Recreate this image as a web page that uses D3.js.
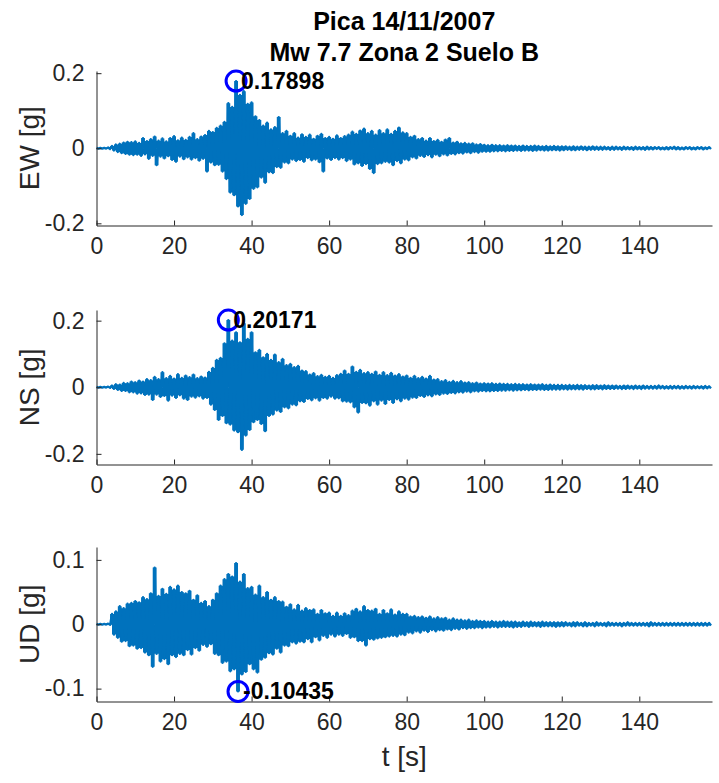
<!DOCTYPE html>
<html>
<head>
<meta charset="utf-8">
<script src="https://cdn.jsdelivr.net/npm/d3@7"></script>
<style>
  body { margin: 0; background: #fff; }
  svg text { font-family: "Liberation Sans", Arial, Helvetica, sans-serif; }
</style>
</head>
<body>
<svg id="chart" width="719" height="783"></svg>
<script>
// ---- Titles and labels ----
const titleLines = ["Pica 14/11/2007", "Mw 7.7 Zona 2 Suelo B"];
const componentNames = ["EW", "NS", "UD"];
const yAxisLabels = ["EW [g]", "NS [g]", "UD [g]"];
const xAxisLabel = "t [s]";

// ---- Axis ticks ----
const xTicks = [0, 20, 40, 60, 80, 100, 120, 140];
const xMax = 158.75;
const yTicksEW = [-0.2, 0, 0.2];
const yTicksNS = [-0.2, 0, 0.2];
const yTicksUD = [-0.1, 0, 0.1];

// ---- Acceleration records [g] ----
// Positive peak of each 1 s window (at t = i s) and negative peak (at t = i + 0.5 s)
const ewPeaks = [
  0.001, 0.001, 0.001, 0.002, 0.006, 0.010, 0.012, 0.015, 0.017, 0.016,
  0.018, 0.014, 0.027, 0.019, 0.024, 0.031, 0.020, 0.026, 0.018, 0.027,
  0.032, 0.021, 0.028, 0.022, 0.030, 0.040, 0.024, 0.031, 0.035, 0.046,
  0.043, 0.054, 0.060, 0.070, 0.120, 0.110, 0.17898, 0.142, 0.152, 0.118,
  0.122, 0.085, 0.075, 0.060, 0.068, 0.050, 0.056, 0.083, 0.040, 0.046,
  0.033, 0.040, 0.028, 0.037, 0.030, 0.036, 0.025, 0.033, 0.038, 0.027,
  0.030, 0.025, 0.034, 0.027, 0.032, 0.036, 0.044, 0.038, 0.047, 0.052,
  0.040, 0.046, 0.036, 0.048, 0.040, 0.050, 0.038, 0.046, 0.055, 0.042,
  0.040, 0.030, 0.033, 0.024, 0.027, 0.020, 0.027, 0.019, 0.022, 0.017,
  0.023, 0.027, 0.015, 0.017, 0.013, 0.014, 0.012, 0.013, 0.010, 0.011,
  0.009, 0.008, 0.009, 0.008, 0.008, 0.007, 0.008, 0.007, 0.007, 0.006,
  0.007, 0.006, 0.006, 0.007, 0.006, 0.005, 0.006, 0.005, 0.006, 0.005,
  0.005, 0.005, 0.004, 0.005, 0.004, 0.005, 0.004, 0.004, 0.005, 0.004,
  0.004, 0.004, 0.003, 0.004, 0.004, 0.003, 0.004, 0.003, 0.003, 0.004,
  0.003, 0.003, 0.004, 0.003, 0.003, 0.003, 0.002, 0.003, 0.003, 0.004,
  0.003, 0.002, 0.003, 0.003, 0.002, 0.003, 0.003, 0.002, 0.003
];
const ewTroughs = [
  -0.001, -0.001, -0.001, -0.002, -0.006, -0.010, -0.013, -0.015, -0.017, -0.018,
  -0.017, -0.020, -0.016, -0.028, -0.020, -0.045, -0.022, -0.027, -0.021, -0.031,
  -0.036, -0.022, -0.029, -0.024, -0.030, -0.026, -0.033, -0.028, -0.062, -0.038,
  -0.045, -0.044, -0.062, -0.082, -0.118, -0.125, -0.155, -0.178, -0.148, -0.135,
  -0.108, -0.104, -0.078, -0.092, -0.064, -0.066, -0.050, -0.052, -0.038, -0.040,
  -0.030, -0.034, -0.031, -0.036, -0.026, -0.032, -0.030, -0.037, -0.062, -0.027,
  -0.031, -0.026, -0.030, -0.026, -0.034, -0.030, -0.043, -0.040, -0.047, -0.042,
  -0.055, -0.066, -0.042, -0.040, -0.036, -0.038, -0.045, -0.034, -0.040, -0.030,
  -0.032, -0.024, -0.027, -0.020, -0.023, -0.018, -0.024, -0.017, -0.021, -0.016,
  -0.019, -0.015, -0.016, -0.013, -0.014, -0.011, -0.013, -0.010, -0.012, -0.009,
  -0.009, -0.009, -0.008, -0.008, -0.007, -0.008, -0.007, -0.007, -0.006, -0.007,
  -0.006, -0.006, -0.007, -0.006, -0.005, -0.006, -0.006, -0.005, -0.005, -0.006,
  -0.005, -0.004, -0.005, -0.005, -0.004, -0.004, -0.005, -0.004, -0.004, -0.004,
  -0.004, -0.003, -0.004, -0.004, -0.003, -0.004, -0.003, -0.003, -0.004, -0.003,
  -0.003, -0.004, -0.003, -0.003, -0.002, -0.003, -0.003, -0.003, -0.002, -0.003,
  -0.003, -0.003, -0.002, -0.003, -0.003, -0.002, -0.003, -0.002, -0.002
];
const nsPeaks = [
  0.001, 0.001, 0.001, 0.002, 0.005, 0.009, 0.008, 0.013, 0.012, 0.017,
  0.015, 0.020, 0.017, 0.024, 0.021, 0.031, 0.024, 0.045, 0.027, 0.034,
  0.026, 0.039, 0.028, 0.035, 0.030, 0.038, 0.027, 0.032, 0.029, 0.046,
  0.058, 0.082, 0.088, 0.132, 0.20171, 0.140, 0.165, 0.135, 0.192, 0.145,
  0.165, 0.105, 0.112, 0.090, 0.100, 0.082, 0.098, 0.075, 0.085, 0.066,
  0.070, 0.060, 0.064, 0.050, 0.048, 0.038, 0.042, 0.033, 0.037, 0.031,
  0.034, 0.028, 0.036, 0.040, 0.050, 0.040, 0.062, 0.046, 0.052, 0.042,
  0.045, 0.040, 0.047, 0.037, 0.045, 0.036, 0.043, 0.035, 0.039, 0.032,
  0.035, 0.028, 0.034, 0.027, 0.031, 0.026, 0.034, 0.023, 0.024, 0.018,
  0.021, 0.016, 0.019, 0.015, 0.018, 0.014, 0.015, 0.012, 0.014, 0.011,
  0.012, 0.011, 0.012, 0.010, 0.011, 0.010, 0.010, 0.009, 0.010, 0.009,
  0.009, 0.008, 0.009, 0.008, 0.008, 0.009, 0.007, 0.008, 0.007, 0.007,
  0.007, 0.006, 0.007, 0.006, 0.007, 0.006, 0.006, 0.005, 0.006, 0.006,
  0.005, 0.006, 0.005, 0.005, 0.005, 0.004, 0.005, 0.005, 0.004, 0.005,
  0.004, 0.005, 0.004, 0.004, 0.004, 0.005, 0.004, 0.003, 0.004, 0.004,
  0.004, 0.003, 0.004, 0.003, 0.004, 0.003, 0.003, 0.004, 0.003
];
const nsTroughs = [
  -0.001, -0.001, -0.001, -0.002, -0.005, -0.008, -0.011, -0.011, -0.015, -0.015,
  -0.019, -0.018, -0.023, -0.022, -0.038, -0.022, -0.029, -0.026, -0.040, -0.025,
  -0.032, -0.024, -0.034, -0.038, -0.028, -0.031, -0.027, -0.034, -0.032, -0.052,
  -0.068, -0.098, -0.086, -0.108, -0.112, -0.130, -0.135, -0.188, -0.145, -0.128,
  -0.105, -0.098, -0.110, -0.132, -0.086, -0.082, -0.070, -0.074, -0.060, -0.063,
  -0.052, -0.054, -0.042, -0.044, -0.035, -0.039, -0.033, -0.040, -0.032, -0.034,
  -0.028, -0.034, -0.033, -0.042, -0.043, -0.045, -0.060, -0.076, -0.047, -0.048,
  -0.055, -0.042, -0.052, -0.040, -0.050, -0.038, -0.047, -0.036, -0.042, -0.034,
  -0.037, -0.031, -0.032, -0.026, -0.029, -0.024, -0.027, -0.021, -0.023, -0.019,
  -0.020, -0.017, -0.018, -0.015, -0.016, -0.013, -0.015, -0.012, -0.013, -0.011,
  -0.012, -0.012, -0.011, -0.011, -0.010, -0.010, -0.009, -0.010, -0.009, -0.009,
  -0.008, -0.009, -0.008, -0.008, -0.007, -0.008, -0.008, -0.007, -0.007, -0.007,
  -0.006, -0.007, -0.006, -0.006, -0.006, -0.007, -0.005, -0.006, -0.006, -0.005,
  -0.006, -0.005, -0.005, -0.005, -0.004, -0.005, -0.005, -0.004, -0.005, -0.004,
  -0.005, -0.004, -0.004, -0.004, -0.004, -0.003, -0.004, -0.004, -0.004, -0.003,
  -0.004, -0.004, -0.003, -0.004, -0.003, -0.003, -0.004, -0.003, -0.003
];
const udPeaks = [
  0.0005, 0.0005, 0.0005, 0.001, 0.016, 0.020, 0.028, 0.025, 0.032, 0.033,
  0.036, 0.034, 0.042, 0.039, 0.048, 0.088, 0.044, 0.055, 0.047, 0.058,
  0.054, 0.060, 0.050, 0.048, 0.052, 0.038, 0.045, 0.033, 0.036, 0.028,
  0.038, 0.048, 0.060, 0.070, 0.078, 0.074, 0.095, 0.066, 0.078, 0.056,
  0.058, 0.046, 0.060, 0.042, 0.050, 0.038, 0.042, 0.036, 0.035, 0.027,
  0.031, 0.023, 0.030, 0.021, 0.025, 0.022, 0.023, 0.016, 0.022, 0.017,
  0.018, 0.013, 0.018, 0.013, 0.017, 0.014, 0.021, 0.024, 0.020, 0.028,
  0.022, 0.021, 0.024, 0.016, 0.022, 0.017, 0.023, 0.015, 0.020, 0.016,
  0.016, 0.012, 0.013, 0.011, 0.012, 0.010, 0.012, 0.009, 0.011, 0.009,
  0.010, 0.007, 0.009, 0.007, 0.007, 0.006, 0.007, 0.005, 0.006, 0.005,
  0.005, 0.004, 0.005, 0.004, 0.004, 0.005, 0.004, 0.004, 0.004, 0.003,
  0.004, 0.003, 0.004, 0.003, 0.003, 0.004, 0.003, 0.003, 0.003, 0.003,
  0.003, 0.003, 0.002, 0.003, 0.003, 0.002, 0.003, 0.002, 0.002, 0.003,
  0.002, 0.002, 0.003, 0.002, 0.002, 0.002, 0.002, 0.003, 0.002, 0.002,
  0.002, 0.002, 0.002, 0.003, 0.002, 0.002, 0.002, 0.002, 0.002, 0.002,
  0.002, 0.002, 0.002, 0.002, 0.002, 0.002, 0.002, 0.002, 0.002
];
const udTroughs = [
  -0.0005, -0.0005, -0.0005, -0.001, -0.016, -0.021, -0.027, -0.026, -0.034, -0.033,
  -0.038, -0.037, -0.044, -0.048, -0.066, -0.046, -0.058, -0.054, -0.062, -0.048,
  -0.051, -0.046, -0.048, -0.040, -0.047, -0.037, -0.041, -0.032, -0.035, -0.031,
  -0.046, -0.048, -0.060, -0.058, -0.073, -0.070, -0.10435, -0.078, -0.074, -0.062,
  -0.070, -0.075, -0.055, -0.052, -0.045, -0.047, -0.038, -0.044, -0.033, -0.034,
  -0.028, -0.030, -0.027, -0.028, -0.023, -0.028, -0.020, -0.025, -0.018, -0.021,
  -0.016, -0.019, -0.016, -0.018, -0.015, -0.021, -0.020, -0.026, -0.026, -0.033,
  -0.023, -0.024, -0.022, -0.021, -0.020, -0.019, -0.018, -0.019, -0.016, -0.017,
  -0.013, -0.014, -0.011, -0.013, -0.010, -0.012, -0.009, -0.011, -0.009, -0.010,
  -0.008, -0.009, -0.007, -0.008, -0.006, -0.007, -0.006, -0.006, -0.005, -0.006,
  -0.005, -0.005, -0.004, -0.005, -0.004, -0.004, -0.004, -0.005, -0.004, -0.004,
  -0.003, -0.004, -0.003, -0.003, -0.004, -0.003, -0.003, -0.003, -0.004, -0.003,
  -0.003, -0.002, -0.003, -0.003, -0.002, -0.003, -0.003, -0.002, -0.003, -0.002,
  -0.002, -0.003, -0.002, -0.002, -0.002, -0.003, -0.002, -0.002, -0.002, -0.002,
  -0.002, -0.002, -0.003, -0.002, -0.002, -0.002, -0.002, -0.002, -0.002, -0.002,
  -0.002, -0.002, -0.002, -0.002, -0.002, -0.002, -0.002, -0.002, -0.002
];

// ---- Layout ----
const plotLeft = 96.5, plotRight = 712;
const panelTops = [71, 310, 547];
const panelHeight = 154.5;
const traceColor = "#0072BD";
const axisColor = "#262626";
const tickFont = 23, titleFont = 25, labelFont = 28;

const svg = d3.select("#chart");

const panels = [
  { name: componentNames[0], label: yAxisLabels[0], peaks: ewPeaks, troughs: ewTroughs, yTicks: yTicksEW },
  { name: componentNames[1], label: yAxisLabels[1], peaks: nsPeaks, troughs: nsTroughs, yTicks: yTicksNS },
  { name: componentNames[2], label: yAxisLabels[2], peaks: udPeaks, troughs: udTroughs, yTicks: yTicksUD }
];

const x = d3.scaleLinear().domain([0, xMax]).range([plotLeft, plotRight]);
const fmtTick = v => (v === 0 ? "0" : String(v));

panels.forEach((p, k) => {
  const up = p.peaks.map((v, i) => ({ t: i, v: v }));
  const down = p.troughs.map((v, i) => ({ t: i + 0.5, v: v }));
  // interleave positive and negative peaks into one time series
  const series = [];
  up.forEach((d, i) => { series.push(d); series.push(down[i]); });
  const extreme = series.reduce((a, b) => (Math.abs(b.v) > Math.abs(a.v) ? b : a));
  const lim = Math.abs(extreme.v) * 1.15;

  const top = panelTops[k], bottom = top + panelHeight;
  const y = d3.scaleLinear().domain([-lim, lim]).range([bottom, top]);

  const g = svg.append("g").attr("class", "panel-" + p.name);

  // dense oscillation body: filled from zero to each side's peaks
  const body = d3.area().curve(d3.curveStep).x(d => x(d.t)).y0(y(0)).y1(d => y(d.v));
  g.append("path").datum(up).attr("fill", traceColor).attr("d", body);
  g.append("path").datum(down).attr("fill", traceColor).attr("d", body);

  // trace
  g.append("path")
    .datum(series)
    .attr("fill", "none")
    .attr("stroke", traceColor)
    .attr("stroke-width", 2.3)
    .attr("stroke-linejoin", "round")
    .attr("d", d3.line().x(d => x(d.t)).y(d => y(d.v)));

  // axes (ticks pointing inward)
  const xAxis = g.append("g")
    .attr("transform", `translate(0,${bottom})`)
    .call(d3.axisBottom(x).tickValues(xTicks).tickFormat(fmtTick)
      .tickSizeInner(-5).tickSizeOuter(0).tickPadding(12));
  const yAxis = g.append("g")
    .attr("transform", `translate(${plotLeft},0)`)
    .call(d3.axisLeft(y).tickValues(p.yTicks).tickFormat(fmtTick)
      .tickSizeInner(-5).tickSizeOuter(0).tickPadding(12));
  [xAxis, yAxis].forEach(a => {
    a.select(".domain").attr("stroke", axisColor).attr("stroke-width", 1);
    a.selectAll(".tick line").attr("stroke", axisColor).attr("stroke-width", 1);
    a.selectAll(".tick text").attr("fill", axisColor)
      .style("font-size", tickFont + "px").style("font-family", '"Liberation Sans", Arial, sans-serif');
  });

  // y label
  g.append("text")
    .attr("transform", `translate(39,${(top + bottom) / 2}) rotate(-90)`)
    .attr("text-anchor", "middle")
    .attr("fill", axisColor)
    .style("font-size", labelFont + "px")
    .text(p.label);

  // largest absolute value
  g.append("circle")
    .attr("cx", x(extreme.t)).attr("cy", y(extreme.v)).attr("r", 10)
    .attr("fill", "none").attr("stroke", "#0000FF").attr("stroke-width", 3);
  g.append("text")
    .attr("x", x(extreme.t) + 5).attr("y", y(extreme.v))
    .attr("dy", "0.33em")
    .attr("fill", "#000")
    .style("font-size", tickFont + "px").style("font-weight", "bold")
    .text(d3.format(".5f")(extreme.v).replace("\u2212", "-"));
});

// x label
svg.append("text")
  .attr("x", (plotLeft + plotRight) / 2).attr("y", 766)
  .attr("text-anchor", "middle")
  .attr("fill", axisColor)
  .style("font-size", labelFont + "px")
  .text(xAxisLabel);

// title
svg.selectAll("text.title")
  .data(titleLines)
  .join("text")
  .attr("class", "title")
  .attr("x", (plotLeft + plotRight) / 2)
  .attr("y", (d, i) => 30 + i * 31)
  .attr("text-anchor", "middle")
  .attr("fill", "#000")
  .style("font-size", titleFont + "px").style("font-weight", "bold")
  .text(d => d);
</script>
</body>
</html>
